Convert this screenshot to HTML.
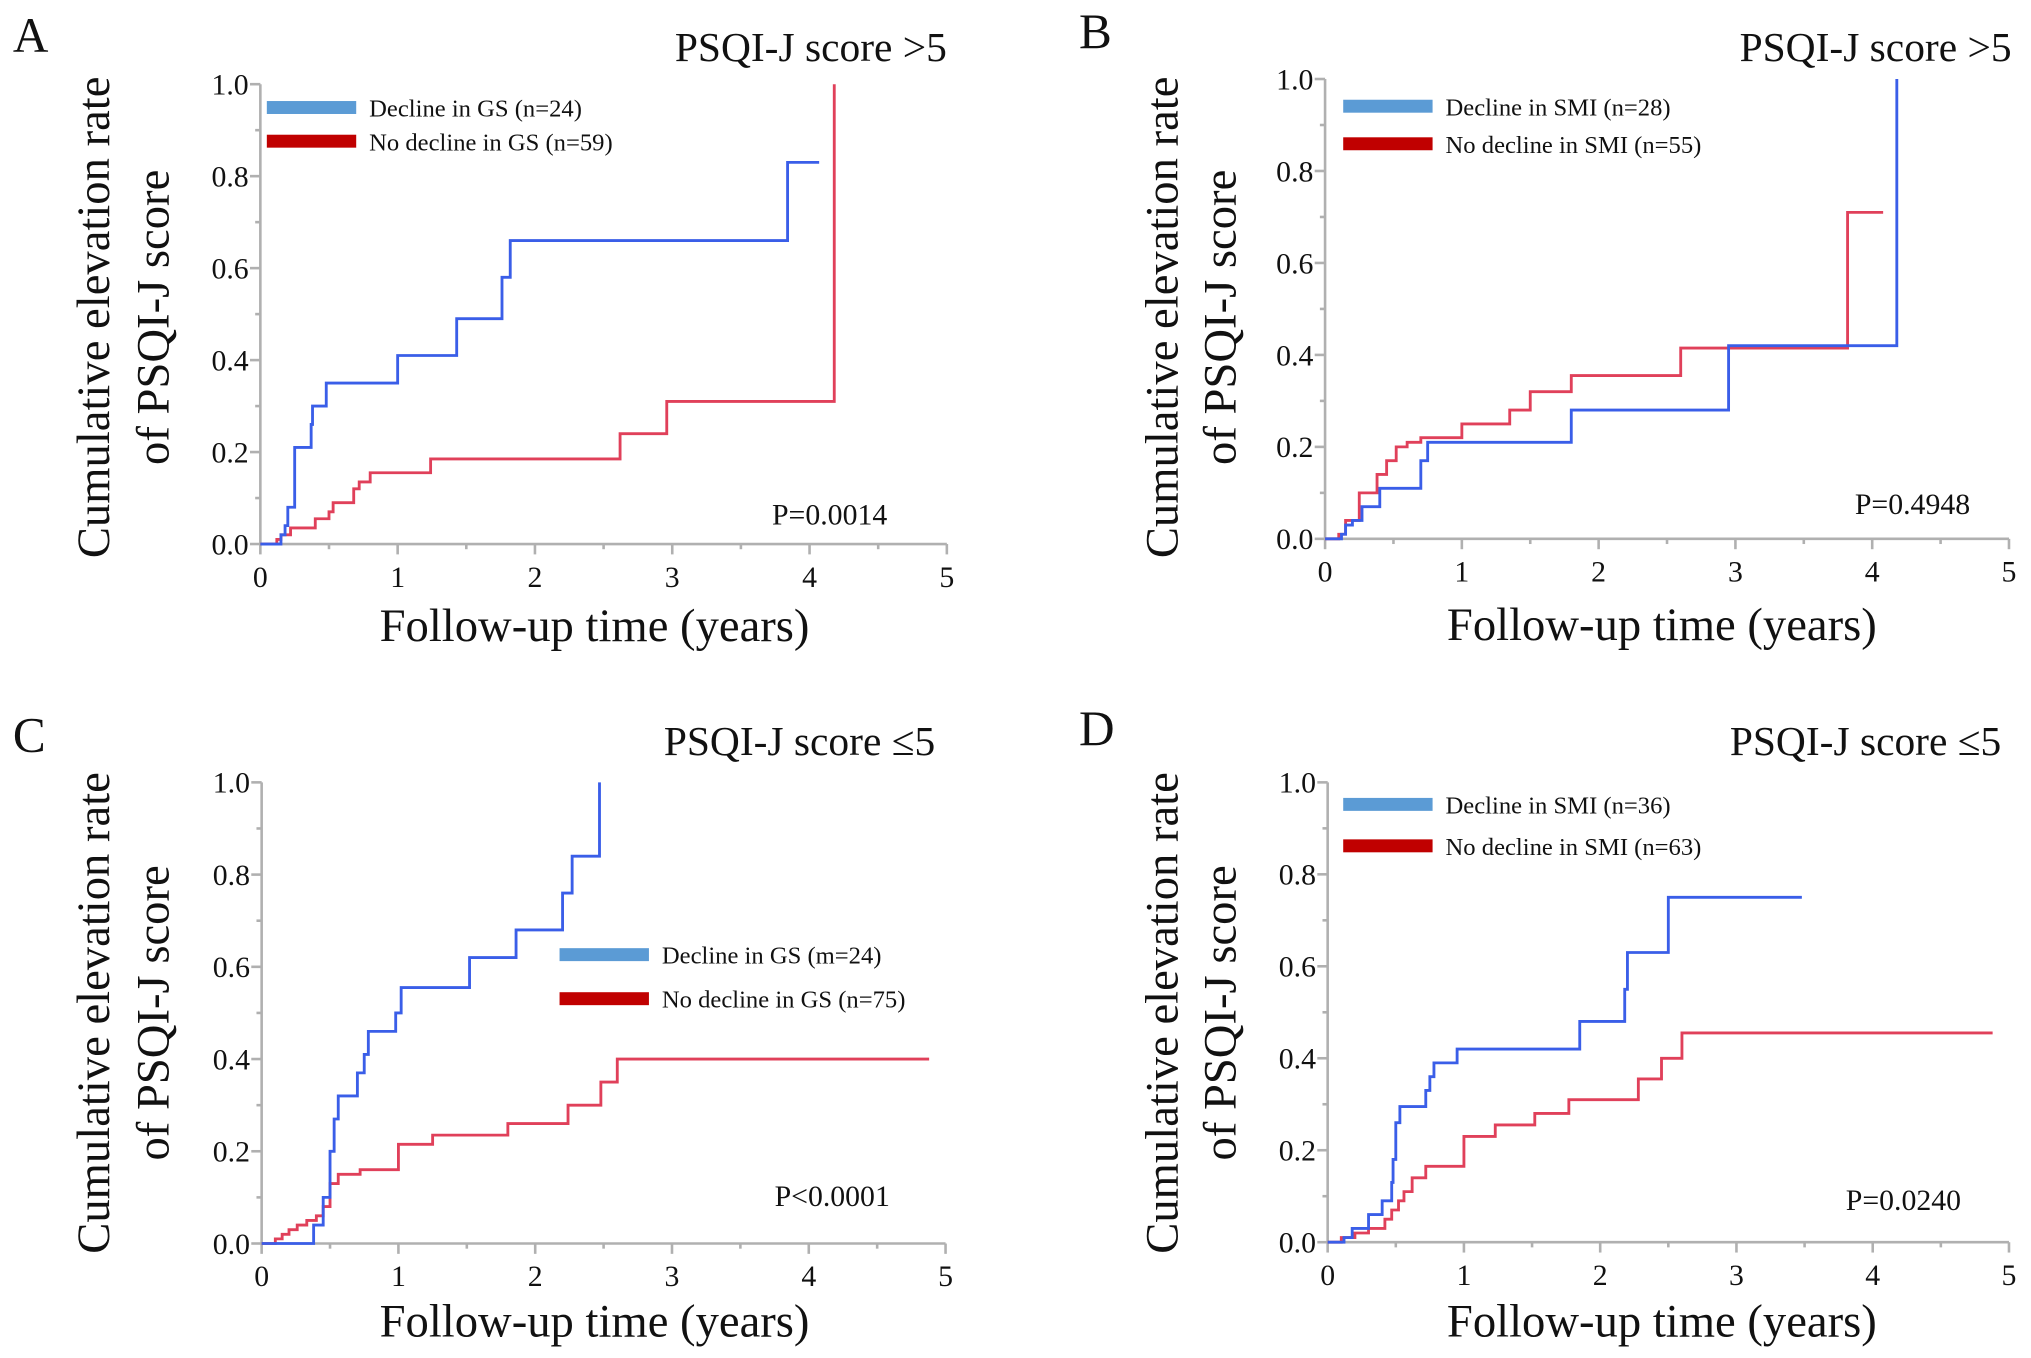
<!DOCTYPE html>
<html><head><meta charset="utf-8"><style>
html,body{margin:0;padding:0;background:#fff}
svg{display:block}
text{font-family:"Liberation Serif",serif;fill:#111}
</style></head><body>
<svg id="fig" width="2031" height="1358" viewBox="0 0 1568 1048.4" preserveAspectRatio="none" xmlns="http://www.w3.org/2000/svg"></svg>
<script>
const xTicks=[0,1,2,3,4,5];
const yTicks=["0.0","0.2","0.4","0.6","0.8","1.0"];
const panelLetters=["A","B","C","D"];
const panelTitles=["PSQI-J score >5","PSQI-J score >5","PSQI-J score \u22645","PSQI-J score \u22645"];
const pValues=["P=0.0014","P=0.4948","P<0.0001","P=0.0240"];
const legendBlue=["Decline in GS (n=24)","Decline in SMI (n=28)","Decline in GS (m=24)","Decline in SMI (n=36)"];
const legendRed=["No decline in GS (n=59)","No decline in SMI (n=55)","No decline in GS (n=75)","No decline in SMI (n=63)"];
// step data: times and cumulative values
const aBlueT=[0,0.15,0.18,0.2,0.25,0.37,0.38,0.48,1.0,1.43,1.76,1.82,3.84,4.07];
const aBlueV=[0,0.02,0.04,0.08,0.21,0.26,0.30,0.35,0.41,0.49,0.58,0.66,0.83,0.83];
const aRedT=[0,0.12,0.15,0.22,0.4,0.5,0.53,0.68,0.72,0.8,1.24,2.62,2.96,4.18];
const aRedV=[0,0.01,0.02,0.035,0.055,0.07,0.09,0.12,0.135,0.155,0.185,0.24,0.31,1.0];
const bBlueT=[0,0.12,0.15,0.2,0.27,0.4,0.7,0.75,1.8,2.95,4.18];
const bBlueV=[0,0.01,0.03,0.04,0.07,0.11,0.17,0.21,0.28,0.42,1.0];
const bRedT=[0,0.1,0.15,0.25,0.38,0.45,0.52,0.6,0.7,1.0,1.35,1.5,1.8,2.6,3.82,4.08];
const bRedV=[0,0.01,0.04,0.1,0.14,0.17,0.2,0.21,0.22,0.25,0.28,0.32,0.355,0.415,0.71,0.71];
const cBlueT=[0,0.38,0.45,0.5,0.53,0.56,0.7,0.75,0.78,0.98,1.02,1.52,1.86,2.2,2.27,2.47];
const cBlueV=[0,0.04,0.1,0.2,0.27,0.32,0.37,0.41,0.46,0.5,0.555,0.62,0.68,0.76,0.84,1.0];
const cRedT=[0,0.1,0.15,0.2,0.26,0.33,0.4,0.45,0.5,0.56,0.72,1.0,1.25,1.8,2.24,2.48,2.6,4.88];
const cRedV=[0,0.01,0.02,0.03,0.04,0.05,0.06,0.08,0.13,0.15,0.16,0.215,0.235,0.26,0.3,0.35,0.4,0.4];
const dBlueT=[0,0.12,0.18,0.3,0.4,0.47,0.48,0.5,0.53,0.72,0.75,0.78,0.95,1.85,2.18,2.2,2.5,3.48];
const dBlueV=[0,0.01,0.03,0.06,0.09,0.13,0.18,0.26,0.295,0.33,0.36,0.39,0.42,0.48,0.55,0.63,0.75,0.75];
const dRedT=[0,0.1,0.2,0.3,0.42,0.47,0.52,0.56,0.62,0.72,1.0,1.23,1.52,1.77,2.28,2.45,2.6,4.88];
const dRedV=[0,0.01,0.02,0.03,0.05,0.07,0.09,0.11,0.14,0.165,0.23,0.255,0.28,0.31,0.355,0.4,0.455,0.455];

const NS="http://www.w3.org/2000/svg";
const svg=document.getElementById('fig');
function mk(tag,attrs,parent){const e=document.createElementNS(NS,tag);for(const k in attrs)e.setAttribute(k,attrs[k]);(parent||svg).appendChild(e);return e;}
const layout=[
 {x0:201,x5:731,y0:420,y1:65,letter:[10,40],title:[731,47],p:[685,405],leg:[206,83,109],yt:[72,118,245],xt:[459,495]},
 {x0:1023,x5:1551,y0:416,y1:61,letter:[833,37],title:[1553,47],p:[1521,397],leg:[1037,82,111],yt:[897,942,245],xt:[1283,494]},
 {x0:202,x5:730,y0:960,y1:604,letter:[10,580],title:[722,583],p:[687,931],leg:[432,737,771],yt:[72,118,782],xt:[459,1032]},
 {x0:1025,x5:1551,y0:959,y1:604,letter:[833,575],title:[1545,583],p:[1514,934],leg:[1037,621,653],yt:[897,942,782],xt:[1283,1032]}
];
const series=[[aBlueT,aBlueV,aRedT,aRedV],[bBlueT,bBlueV,bRedT,bRedV],[cBlueT,cBlueV,cRedT,cRedV],[dBlueT,dBlueV,dRedT,dRedV]];
layout.forEach((L,i)=>{
 const g=mk('g',{});
 
 
 const sx=t=>L.x0+(L.x5-L.x0)*t/5;
 const sy=v=>L.y0-(L.y0-L.y1)*v;
 const lt=mk('text',{x:L.letter[0],y:L.letter[1],'font-size':38},g);lt.textContent=panelLetters[i];
 
 const tt=mk('text',{x:L.title[0],y:L.title[1],'font-size':32,'text-anchor':'end'},g);tt.textContent=panelTitles[i];
 
 const ax=mk('g',{stroke:'#b0b0b0','stroke-width':2,fill:'none'},g);
 
 mk('line',{x1:L.x0,y1:L.y0,x2:L.x5,y2:L.y0},ax);
 mk('line',{x1:L.x0,y1:L.y0,x2:L.x0,y2:L.y1},ax);
 for(let k=0;k<=10;k++){const x=L.x0+(L.x5-L.x0)*k/10;mk('line',{x1:x,y1:L.y0,x2:x,y2:L.y0+(k%2?4:8)},ax);}
 for(let k=0;k<=10;k++){const y=L.y0-(L.y0-L.y1)*k/10;mk('line',{x1:L.x0,y1:y,x2:L.x0-(k%2?4:8),y2:y},ax);}
 xTicks.forEach(t=>{const e=mk('text',{x:sx(t),y:L.y0+33,'font-size':23,'text-anchor':'middle'},g);e.textContent=t;
  });
 yTicks.forEach(t=>{const e=mk('text',{x:L.x0-9,y:sy(parseFloat(t))+8,'font-size':23,'text-anchor':'end'},g);e.textContent=t;
  });
 const xt=mk('text',{x:L.xt[0],y:L.xt[1],'font-size':36,'text-anchor':'middle'},g);xt.textContent='Follow-up time (years)';
 
 const y1=mk('text',{x:0,y:0,'font-size':36,'text-anchor':'middle','font-family':'Liberation Sans, sans-serif',transform:`translate(${L.yt[0]+12},${L.yt[2]}) rotate(-90)`},g);
 y1.textContent='Cumulative elevation rate';
 const y2=mk('text',{x:0,y:0,'font-size':36,'text-anchor':'middle','font-family':'Liberation Sans, sans-serif',transform:`translate(${L.yt[1]+12},${L.yt[2]}) rotate(-90)`},g);
 y2.textContent='of PSQI-J score';
 const pv=mk('text',{x:L.p[0],y:L.p[1],'font-size':23,'text-anchor':'end'},g);pv.textContent=pValues[i];
 
 [[L.leg[1],'#5b9bd5',legendBlue[i]],[L.leg[2],'#c00000',legendRed[i]]].forEach(([y,c,txt],j)=>{
  const r=mk('rect',{x:L.leg[0],y:y-5,width:69,height:10,fill:c},g);
  
  const t=mk('text',{x:L.leg[0]+79,y:y+7,'font-size':19},g);t.textContent=txt;
  
 });
 const S=series[i];
 [[S[2],S[3],'#e0405a'],[S[0],S[1],'#3a5ee8']].forEach(([T,V,c],j)=>{
  let d=`M${sx(T[0])},${sy(V[0])}`;
  for(let k=1;k<T.length;k++){d+=` H${sx(T[k])} V${sy(V[k])}`;}
  const p=mk('path',{d:d,fill:'none',stroke:c,'stroke-width':2.2},g);
  
 });
});
</script>
</body></html>
